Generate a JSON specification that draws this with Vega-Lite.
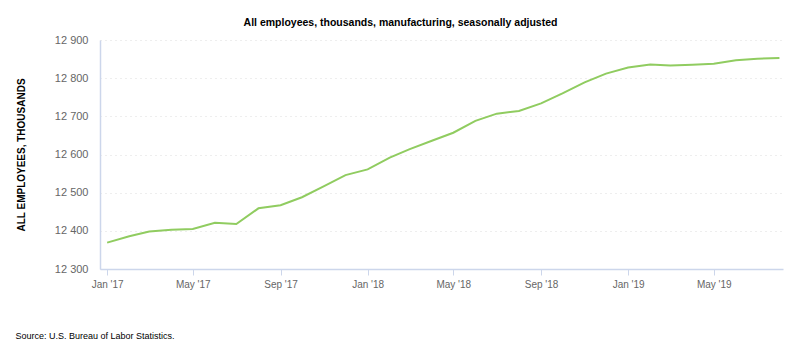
{
  "$schema": "https://vega.github.io/schema/vega-lite/v6.json",
  "autosize": {"type": "none"},
  "width": 683,
  "height": 229,
  "padding": {"left": 100, "top": 40, "right": 17, "bottom": 80},
  "background": "white",
  "title": {
    "text": "All employees, thousands, manufacturing, seasonally adjusted",
    "font": "Liberation Sans",
    "fontSize": 10.5,
    "fontWeight": "bold",
    "color": "#000000",
    "anchor": "middle",
    "dx": -41,
    "offset": 6
  },
  "data": {
    "values": [
      {"date": "2017-01-01", "value": 12369},
      {"date": "2017-02-01", "value": 12386},
      {"date": "2017-03-01", "value": 12398},
      {"date": "2017-04-01", "value": 12403},
      {"date": "2017-05-01", "value": 12405},
      {"date": "2017-06-01", "value": 12421},
      {"date": "2017-07-01", "value": 12418},
      {"date": "2017-08-01", "value": 12459},
      {"date": "2017-09-01", "value": 12467},
      {"date": "2017-10-01", "value": 12488},
      {"date": "2017-11-01", "value": 12517},
      {"date": "2017-12-01", "value": 12546},
      {"date": "2018-01-01", "value": 12561},
      {"date": "2018-02-01", "value": 12592},
      {"date": "2018-03-01", "value": 12614},
      {"date": "2018-04-01", "value": 12636},
      {"date": "2018-05-01", "value": 12657},
      {"date": "2018-06-01", "value": 12688},
      {"date": "2018-07-01", "value": 12707},
      {"date": "2018-08-01", "value": 12714},
      {"date": "2018-09-01", "value": 12734},
      {"date": "2018-10-01", "value": 12760},
      {"date": "2018-11-01", "value": 12789},
      {"date": "2018-12-01", "value": 12812},
      {"date": "2019-01-01", "value": 12828},
      {"date": "2019-02-01", "value": 12836},
      {"date": "2019-03-01", "value": 12833},
      {"date": "2019-04-01", "value": 12835},
      {"date": "2019-05-01", "value": 12838},
      {"date": "2019-06-01", "value": 12847},
      {"date": "2019-07-01", "value": 12851},
      {"date": "2019-08-01", "value": 12853}
    ]
  },
  "mark": {"type": "line", "color": "#90cc60", "strokeWidth": 2, "interpolate": "linear"},
  "encoding": {
    "x": {
      "field": "date",
      "type": "temporal",
      "scale": {
        "domain": [{"year": 2016, "month": 12, "date": 22}, {"year": 2019, "month": 8, "date": 6}],
        "nice": false
      },
      "axis": {
        "values": [
          {"year": 2017, "month": 1, "date": 1},
          {"year": 2017, "month": 5, "date": 1},
          {"year": 2017, "month": 9, "date": 1},
          {"year": 2018, "month": 1, "date": 1},
          {"year": 2018, "month": 5, "date": 1},
          {"year": 2018, "month": 9, "date": 1},
          {"year": 2019, "month": 1, "date": 1},
          {"year": 2019, "month": 5, "date": 1}
        ],
        "format": "%b '%y",
        "labelFont": "Liberation Sans",
        "labelFontSize": 10,
        "labelColor": "#666666",
        "labelPadding": 4,
        "grid": false,
        "domainColor": "#ccd6eb",
        "domainWidth": 1.5,
        "tickColor": "#ccd6eb",
        "tickSize": 6,
        "title": "Source: U.S. Bureau of Labor Statistics.",
        "titleFont": "Liberation Sans",
        "titleFontSize": 9,
        "titleFontWeight": "normal",
        "titleColor": "#000000",
        "titleAnchor": "start",
        "titleAlign": "left",
        "titleBaseline": "alphabetic",
        "titleX": -85,
        "titleY": 69
      }
    },
    "y": {
      "field": "value",
      "type": "quantitative",
      "scale": {"domain": [12300, 12900], "nice": false, "zero": false},
      "axis": {
        "values": [12300, 12400, 12500, 12600, 12700, 12800, 12900],
        "labelExpr": "replace(format(datum.value, ','), ',', ' ')",
        "labelFont": "Liberation Sans",
        "labelFontSize": 11,
        "labelColor": "#666666",
        "labelPadding": 12,
        "ticks": false,
        "grid": true,
        "gridColor": "#dddddd",
        "gridDash": [1, 4],
        "domainColor": "#ccd6eb",
        "domainWidth": 1.5,
        "title": "ALL EMPLOYEES, THOUSANDS",
        "titleFont": "Liberation Sans",
        "titleFontSize": 10,
        "titleFontWeight": "bold",
        "titleColor": "#000000",
        "titlePadding": 28
      }
    }
  },
  "config": {"view": {"stroke": null}}
}
